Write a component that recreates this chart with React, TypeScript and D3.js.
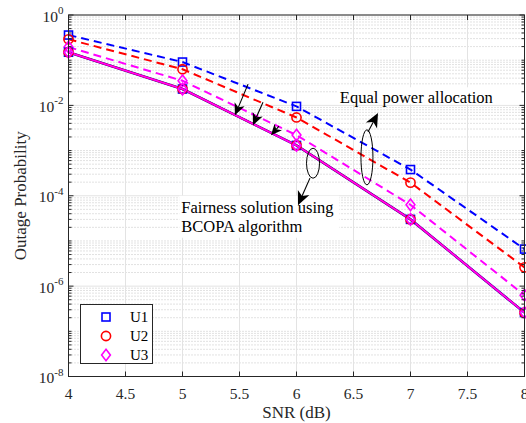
import React from 'react';
import * as d3 from 'd3';

// SNR points and outage probabilities
const snr = [4, 5, 6, 7, 8];
const equalU1 = [0.36, 0.091, 0.0095, 3.8e-4, 6.6e-6];
const equalU2 = [0.29, 0.063, 5.4e-3, 1.95e-4, 2.6e-6];
const equalU3 = [0.195, 0.035, 2.2e-3, 6.3e-5, 6.3e-7];
const fairU1 = [0.15, 0.023, 1.3e-3, 3.0e-5, 2.6e-7];
const fairU2 = [0.15, 0.023, 1.3e-3, 3.0e-5, 2.6e-7];
const fairU3 = [0.15, 0.023, 1.3e-3, 3.0e-5, 2.6e-7];

const xTicks = [4, 4.5, 5, 5.5, 6, 6.5, 7, 7.5, 8];
const xTickLabels = ['4', '4.5', '5', '5.5', '6', '6.5', '7', '7.5', '8'];
const yExponents = [0, -2, -4, -6, -8];
const legendNames = ['U1', 'U2', 'U3'];

const W = 526;
const H = 423;
const margin = { top: 15, right: 1.5, bottom: 46.5, left: 68.5 };

const FONT = '"Liberation Serif", "Times New Roman", serif';
const AX = '#262626';
const BLUE = '#0000ff';
const RED = '#ff0000';
const MAG = '#ff00ff';

const x = d3.scaleLinear().domain([4, 8]).range([margin.left, W - margin.right]);
const y = d3.scaleLog().domain([1e-8, 1]).range([H - margin.bottom, margin.top]);

const line = d3
  .line<number>()
  .x((_, i) => x(snr[i]))
  .y(d => y(d));

// minor decade positions (2..9 x 10^k and odd decades)
const minorY: number[] = [];
for (let e = -8; e < 0; e++) {
  for (let m = 1; m <= 9; m++) {
    if (m === 1 && e % 2 === 0) continue;
    minorY.push(m * Math.pow(10, e));
  }
}

function Marker({ kind, cx, cy, color }: { kind: string; cx: number; cy: number; color: string }) {
  if (kind === 'square') {
    return <rect x={cx - 4} y={cy - 4} width={8} height={8} fill="none" stroke={color} strokeWidth={1.6} />;
  }
  if (kind === 'circle') {
    return <circle cx={cx} cy={cy} r={4.6} fill="none" stroke={color} strokeWidth={1.6} />;
  }
  return (
    <path
      d={`M${cx},${cy - 5.8}L${cx + 4.4},${cy}L${cx},${cy + 5.8}L${cx - 4.4},${cy}Z`}
      fill="none"
      stroke={color}
      strokeWidth={1.6}
    />
  );
}

// annotation arrow, given in data units (snr, log10 prob)
function Arrow({ t, h, size = 12 }: { t: number[]; h: number[]; size?: number }) {
  const x1 = x(t[0]), y1 = y(Math.pow(10, t[1]));
  const x2 = x(h[0]), y2 = y(Math.pow(10, h[1]));
  const len = Math.hypot(x2 - x1, y2 - y1);
  const ux = (x2 - x1) / len, uy = (y2 - y1) / len;
  const px = -uy, py = ux;
  const bw = size * 0.45;
  const bx = x2 - ux * size, by = y2 - uy * size;
  const nx = x2 - ux * size * 0.72, ny = y2 - uy * size * 0.72;
  return (
    <g>
      <line x1={x1} y1={y1} x2={nx} y2={ny} stroke="#000" strokeWidth={1.1} />
      <path
        d={`M${x2},${y2}L${bx + px * bw},${by + py * bw}L${nx},${ny}L${bx - px * bw},${by - py * bw}Z`}
        fill="#000"
      />
    </g>
  );
}

function Ellipse({ c, rx, ry }: { c: number[]; rx: number; ry: number }) {
  return (
    <ellipse cx={x(c[0])} cy={y(Math.pow(10, c[1]))} rx={rx} ry={ry} fill="none" stroke="#000" strokeWidth={1} />
  );
}

const dashedSeries = [
  { values: equalU1, color: BLUE, kind: 'square' },
  { values: equalU2, color: RED, kind: 'circle' },
  { values: equalU3, color: MAG, kind: 'diamond' },
];
const solidSeries = [
  { values: fairU1, color: BLUE, kind: 'square', width: 2.6 },
  { values: fairU2, color: RED, kind: 'circle', width: 2 },
  { values: fairU3, color: MAG, kind: 'diamond', width: 1.6 },
];

export default function App() {
  const left = margin.left;
  const right = W - margin.right;
  const top = margin.top;
  const bottom = H - margin.bottom;

  return (
    <svg
      width={W}
      height={H}
      style={{ position: 'absolute', left: 0, top: 0, background: '#fff' }}
      fontFamily={FONT}
    >
      <rect x={0} y={0} width={W} height={H} fill="#fff" />
      <defs>
        <clipPath id="plotClip">
          <rect x={left} y={top} width={right - left} height={bottom - top} />
        </clipPath>
      </defs>

      {/* minor grid */}
      {minorY.map((v, i) => (
        <line
          key={'mg' + i}
          x1={left}
          x2={right}
          y1={y(v)}
          y2={y(v)}
          stroke="#c4c4c4"
          strokeWidth={1}
          strokeDasharray="1,2"
        />
      ))}
      {/* major grid */}
      {xTicks.map(t => (
        <line key={'gx' + t} x1={x(t)} x2={x(t)} y1={top} y2={bottom} stroke="#e3e3e3" strokeWidth={1} />
      ))}
      {yExponents.map(e => (
        <line
          key={'gy' + e}
          x1={left}
          x2={right}
          y1={y(Math.pow(10, e))}
          y2={y(Math.pow(10, e))}
          stroke="#e3e3e3"
          strokeWidth={1}
        />
      ))}

      {/* text backgrounds */}
      <rect x={x(6.38) - 2} y={y(Math.pow(10, -1.6))} width={right - x(6.38)} height={17} fill="#fff" />
      <rect x={x(4.99) - 2} y={y(Math.pow(10, -4.0))} width={160} height={42} fill="#fff" />

      <g clipPath="url(#plotClip)">
        {dashedSeries.map((s, i) => (
          <path
            key={'d' + i}
            d={line(s.values) || ''}
            fill="none"
            stroke={s.color}
            strokeWidth={2}
            strokeDasharray="8,5"
          />
        ))}
        {solidSeries.map((s, i) => (
          <path key={'s' + i} d={line(s.values) || ''} fill="none" stroke={s.color} strokeWidth={s.width} />
        ))}
      </g>
      {dashedSeries.map((s, i) =>
        s.values.map((v, j) => (
          <Marker key={'dm' + i + '-' + j} kind={s.kind} cx={x(snr[j])} cy={y(v)} color={s.color} />
        ))
      )}
      {solidSeries.map((s, i) =>
        s.values.map((v, j) => (
          <Marker key={'sm' + i + '-' + j} kind={s.kind} cx={x(snr[j])} cy={y(v)} color={s.color} />
        ))
      )}

      {/* annotations */}
      <Arrow t={[5.575, -1.53]} h={[5.46, -2.22]} />
      <Arrow t={[5.706, -1.93]} h={[5.618, -2.44]} />
      <Arrow t={[5.846, -2.46]} h={[5.776, -2.66]} size={11} />
      <Ellipse c={[6.618, -3.15]} rx={6} ry={27.5} />
      <Arrow t={[6.627, -2.59]} h={[6.715, -2.17]} size={14} />
      <Ellipse c={[6.145, -3.28]} rx={6.5} ry={15} />
      <Arrow t={[6.118, -3.61]} h={[6.013, -4.21]} size={14} />
      <text x={x(6.38)} y={y(Math.pow(10, -1.95))} fontSize={16.5} fill="#000">
        Equal power allocation
      </text>
      <text x={x(4.99)} y={y(Math.pow(10, -4.39))} fontSize={16.5} fill="#000">
        Fairness solution using
      </text>
      <text x={x(4.99)} y={y(Math.pow(10, -4.81))} fontSize={16.5} fill="#000">
        BCOPA algorithm
      </text>

      {/* axes box */}
      <rect x={left} y={top} width={right - left} height={bottom - top} fill="none" stroke={AX} strokeWidth={1} />
      {/* x ticks */}
      {xTicks.map(t => (
        <g key={'xt' + t}>
          <line x1={x(t)} x2={x(t)} y1={bottom} y2={bottom - 5} stroke={AX} />
          <line x1={x(t)} x2={x(t)} y1={top} y2={top + 5} stroke={AX} />
        </g>
      ))}
      {/* y ticks */}
      {yExponents.map(e => (
        <g key={'yt' + e}>
          <line x1={left} x2={left + 5} y1={y(Math.pow(10, e))} y2={y(Math.pow(10, e))} stroke={AX} />
          <line x1={right} x2={right - 5} y1={y(Math.pow(10, e))} y2={y(Math.pow(10, e))} stroke={AX} />
        </g>
      ))}
      {minorY.map((v, i) => (
        <g key={'ymt' + i}>
          <line x1={left} x2={left + 3} y1={y(v)} y2={y(v)} stroke={AX} />
          <line x1={right} x2={right - 3} y1={y(v)} y2={y(v)} stroke={AX} />
        </g>
      ))}

      {/* tick labels */}
      {xTicks.map((t, i) => (
        <text key={'xl' + t} x={x(t)} y={bottom + 22} textAnchor="middle" fontSize={15.5} fill={AX}>
          {xTickLabels[i]}
        </text>
      ))}
      {yExponents.map(e => (
        <text key={'yl' + e} x={left - 5} y={y(Math.pow(10, e)) + 6.5} textAnchor="end" fontSize={15.5} fill={AX}>
          <tspan>10</tspan>
          <tspan dy={-7.5} fontSize={11}>
            {String(e)}
          </tspan>
        </text>
      ))}

      {/* axis titles */}
      <text x={(left + right) / 2} y={H - 5} textAnchor="middle" fontSize={17} fill={AX}>
        SNR (dB)
      </text>
      <text
        transform={`translate(26,${(top + bottom) / 2}) rotate(-90)`}
        textAnchor="middle"
        fontSize={17}
        fill={AX}
      >
        Outage Probability
      </text>

      {/* legend */}
      <g transform="translate(80.5,304.5)">
        <rect x={0} y={0} width={72} height={59} fill="#fff" stroke={AX} strokeWidth={1} />
        {dashedSeries.map((s, i) => (
          <g key={'lg' + i}>
            <Marker kind={s.kind} cx={25.5} cy={12.5 + i * 19} color={s.color} />
            <text x={49.5} y={12.5 + i * 19 + 5} fontSize={15} fill="#000">
              {legendNames[i]}
            </text>
          </g>
        ))}
      </g>
    </svg>
  );
}
